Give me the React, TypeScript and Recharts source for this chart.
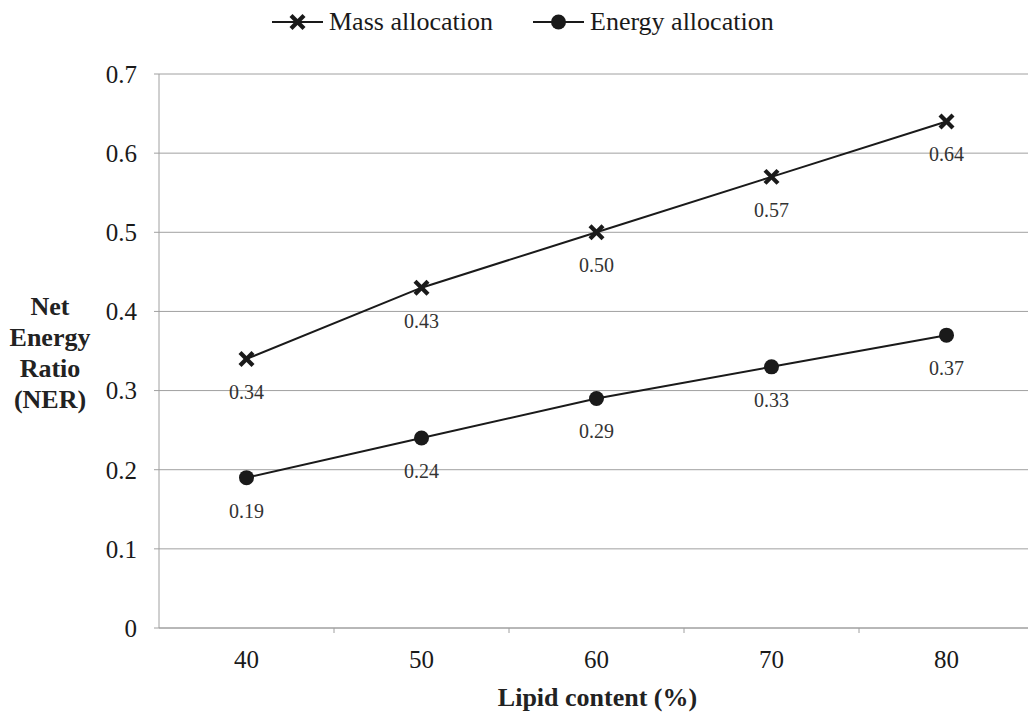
import React from "react";
import {
  LineChart,
  Line,
  XAxis,
  YAxis,
  CartesianGrid,
  Legend,
  LabelList,
} from "recharts";

const lipidContent = [40, 50, 60, 70, 80];
const massAllocation = [0.34, 0.43, 0.5, 0.57, 0.64];
const energyAllocation = [0.19, 0.24, 0.29, 0.33, 0.37];
const yTicks = [0, 0.1, 0.2, 0.3, 0.4, 0.5, 0.6, 0.7];
const xTicks = [40, 45, 50, 55, 60, 65, 70, 75, 80];
const seriesNames = ["Mass allocation", "Energy allocation"];
const yTitleLines = ["Net", "Energy", "Ratio", "(NER)"];
const xTitle = "Lipid content (%)";

const data = lipidContent.map((x, i) => ({
  lipid: x,
  mass: massAllocation[i],
  energy: energyAllocation[i],
}));

const FONT = "Liberation Serif, DejaVu Serif, serif";
const INK = "#1a1a1a";
const GRID = "#a0a0a0";

const CrossDot = (props: any) => {
  const { cx, cy } = props;
  if (cx == null || cy == null) return null;
  const s = 6.5;
  return (
    <g>
      <line x1={cx - s} y1={cy - s} x2={cx + s} y2={cy + s} stroke={INK} strokeWidth={4.2} />
      <line x1={cx - s} y1={cy + s} x2={cx + s} y2={cy - s} stroke={INK} strokeWidth={4.2} />
    </g>
  );
};

const CircleDot = (props: any) => {
  const { cx, cy } = props;
  if (cx == null || cy == null) return null;
  return <circle cx={cx} cy={cy} r={7.5} fill={INK} stroke="none" />;
};

const XTick = (props: any) => {
  const { x, y, payload } = props;
  const v = payload.value;
  if (v % 10 === 5) {
    return <line x1={x} y1={y} x2={x} y2={y + 5} stroke={GRID} strokeWidth={1} />;
  }
  return (
    <text x={x} y={y + 31} textAnchor="middle" dominantBaseline="central" style={{ fontFamily: FONT }} fontSize={25} fill={INK}>
      {v}
    </text>
  );
};

const valueLabel = (props: any) => {
  const { x, y, value } = props;
  return (
    <text x={x} y={y + 33} textAnchor="middle" dominantBaseline="central" style={{ fontFamily: FONT }} fontSize={20} fill="#333">
      {Number(value).toFixed(2)}
    </text>
  );
};

const LegendContent = () => {
  const item = (left: number, name: string, marker: "cross" | "circle") => (
    <div key={name} style={{ position: "absolute", left, top: 6, display: "flex", alignItems: "center", height: 32 }}>
      <svg width={52} height={20} style={{ display: "block" }}>
        <line x1={0} y1={10} x2={51} y2={10} stroke={INK} strokeWidth={2} />
        {marker === "cross" ? (
          <g>
            <line x1={19} y1={3.5} x2={32} y2={16.5} stroke={INK} strokeWidth={4.2} />
            <line x1={19} y1={16.5} x2={32} y2={3.5} stroke={INK} strokeWidth={4.2} />
          </g>
        ) : (
          <circle cx={25.5} cy={10} r={7.5} fill={INK} />
        )}
      </svg>
      <span style={{ fontFamily: FONT, fontSize: 26, color: INK, marginLeft: 5, whiteSpace: "nowrap" }}>{name}</span>
    </div>
  );
  return (
    <div style={{ position: "relative", width: 1040, height: 44 }}>
      {item(272, seriesNames[0], "cross")}
      {item(533, seriesNames[1], "circle")}
    </div>
  );
};

const YTitle = (props: any) => {
  const vb = props.viewBox || {};
  const cx = 50;
  const cy = (vb.y ?? 74) + (vb.height ?? 554) / 2 + 2;
  return (
    <text textAnchor="middle" style={{ fontFamily: FONT }} fontSize={26} fontWeight="bold" fill="#222">
      {yTitleLines.map((t, i) => (
        <tspan key={t} x={cx} y={cy + (i - 1.5) * 31} dominantBaseline="central">
          {t}
        </tspan>
      ))}
    </text>
  );
};

const XTitle = (props: any) => {
  const vb = props.viewBox || {};
  const cx = (vb.x ?? 159) + (vb.width ?? 875) / 2 + 1;
  const cy = (vb.y ?? 628) + 69;
  return (
    <text x={cx} y={cy} textAnchor="middle" dominantBaseline="central" style={{ fontFamily: FONT }} fontSize={26} fontWeight="bold" fill="#222">
      {xTitle}
    </text>
  );
};

export default function App() {
  return (
    <div style={{ position: "absolute", left: 0, top: 0, width: 1028, height: 717, overflow: "hidden", background: "#fff", fontFamily: FONT }}>
      <LineChart width={1040} height={717} data={data} margin={{ top: 30, right: 6, bottom: 0, left: 0 }} style={{ fontFamily: FONT }}>
        <CartesianGrid horizontal vertical={false} stroke={GRID} strokeWidth={1} />
        <XAxis
          dataKey="lipid"
          type="number"
          domain={[35, 85]}
          ticks={xTicks}
          interval={0}
          tick={<XTick />}
          tickLine={false}
          tickSize={0}
          tickMargin={0}
          height={89}
          axisLine={{ stroke: GRID, strokeWidth: 1 }}
          label={<XTitle />}
          allowDataOverflow
        />
        <YAxis
          type="number"
          domain={[0, 0.7]}
          ticks={yTicks}
          interval={0}
          width={159}
          tickSize={5}
          tickMargin={17}
          tickLine={{ stroke: GRID }}
          axisLine={{ stroke: GRID, strokeWidth: 1 }}
          tickFormatter={(v: number) => (v === 0 ? "0" : v.toFixed(1))}
          tick={{ fontFamily: FONT, fontSize: 25, fill: INK, style: { fontFamily: FONT } }}
          label={<YTitle />}
        />
        <Legend verticalAlign="top" align="left" content={<LegendContent />} wrapperStyle={{ top: 0, left: 0 }} />
        <Line
          dataKey="mass"
          name={seriesNames[0]}
          stroke={INK}
          strokeWidth={2}
          dot={<CrossDot />}
          activeDot={false}
          isAnimationActive={false}
        >
          <LabelList dataKey="mass" content={valueLabel} />
        </Line>
        <Line
          dataKey="energy"
          name={seriesNames[1]}
          stroke={INK}
          strokeWidth={2}
          dot={<CircleDot />}
          activeDot={false}
          isAnimationActive={false}
        >
          <LabelList dataKey="energy" content={valueLabel} />
        </Line>
      </LineChart>
    </div>
  );
}
